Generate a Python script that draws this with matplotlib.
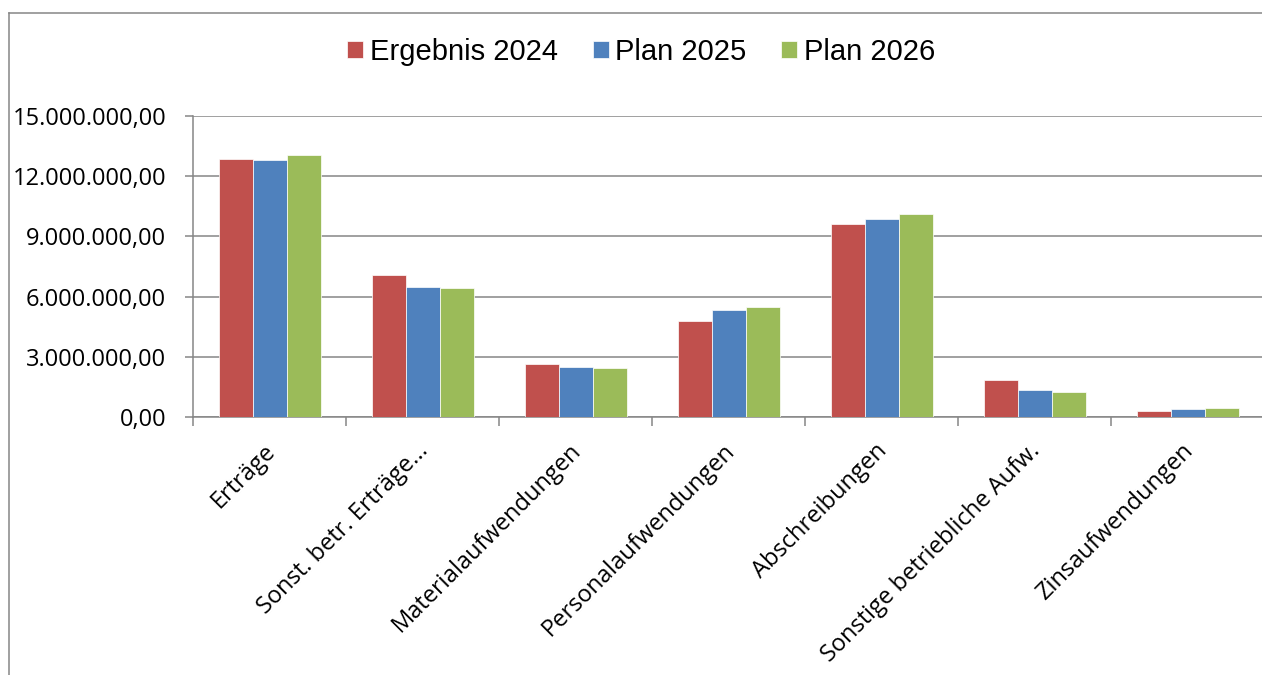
import matplotlib.pyplot as plt
import numpy as np
import matplotlib.transforms as mtransforms
from matplotlib.lines import Line2D
from matplotlib.ticker import FuncFormatter, FixedLocator

# Daten
kategorien = ['Erträge', 'Sonst. betr. Erträge...', 'Materialaufwendungen',
              'Personalaufwendungen', 'Abschreibungen',
              'Sonstige betriebliche Aufw.', 'Zinsaufwendungen']
ergebnis_2024 = [12870000, 7100000, 2630000, 4770000, 9630000, 1820000, 320000]
plan_2025 = [12800000, 6470000, 2480000, 5350000, 9880000, 1370000, 380000]
plan_2026 = [13070000, 6430000, 2450000, 5470000, 10100000, 1230000, 430000]
serien = ['Ergebnis 2024', 'Plan 2025', 'Plan 2026']
farben = ['#C0504D', '#4F81BD', '#9BBB59']
y_ticks = [0, 3000000, 6000000, 9000000, 12000000, 15000000]

W, H = 1262, 675
grau = '#868686'

fig = plt.figure(figsize=(W / 100, H / 100), dpi=100)
ax = fig.add_axes([193 / W, 1 - 417 / H, 1071 / W, 301 / H])

x = np.arange(len(kategorien))
breite = 34 / 153
for i, (werte, name, farbe) in enumerate(zip([ergebnis_2024, plan_2025, plan_2026], serien, farben)):
    ax.bar(x + (i - 1) * breite, werte, breite, color=farbe, label=name,
           edgecolor='white', linewidth=0.5, zorder=3)

ax.set_xlim(-0.5, len(kategorien) - 0.5)
ax.set_ylim(0, 15000000)
ax.set_yticks(y_ticks)


def deutsch(v, pos):
    s = f'{v:,.2f}'
    return s.replace(',', 'X').replace('.', ',').replace('X', '.')


ax.yaxis.set_major_formatter(FuncFormatter(deutsch))
ax.grid(axis='y', color=grau, linewidth=1.1, zorder=0)

for s in ['top', 'right']:
    ax.spines[s].set_visible(False)
for s in ['left', 'bottom']:
    ax.spines[s].set_color(grau)
    ax.spines[s].set_linewidth(1.1)

ax.tick_params(axis='y', direction='out', length=5.8, width=1.1, color=grau,
               pad=13.5, labelsize=17)
for lbl in ax.get_yticklabels():
    lbl.set_fontfamily('Open Sans')

# Kategorien-Beschriftung
ax.set_xticks(x)
ax.set_xticklabels(kategorien, rotation=45, ha='right', va='top',
                   rotation_mode='anchor', fontsize=17, fontfamily='Open Sans')
ax.tick_params(axis='x', which='major', length=0, pad=16)
verschiebung = mtransforms.ScaledTranslation(-6 / 100, 0, fig.dpi_scale_trans)
for lbl in ax.get_xticklabels():
    lbl.set_transform(lbl.get_transform() + verschiebung)
ax.xaxis.set_minor_locator(FixedLocator(np.arange(-0.5, len(kategorien), 1.0)))
ax.tick_params(axis='x', which='minor', direction='out', length=6.5, width=1.1, color=grau)

# Legende
fig.legend(loc='center', bbox_to_anchor=(641 / W, 1 - 52 / H), ncol=3, frameon=False,
           prop={'family': 'Liberation Sans', 'size': 21},
           handlelength=0.55, handleheight=0.55, handletextpad=0.22, columnspacing=1.2)

# Diagrammrahmen (nur links und oben sichtbar)
fig.lines.append(Line2D([9 / W, 9 / W], [0, 1 - 12.5 / H], transform=fig.transFigure,
                        color=grau, linewidth=1.1))
fig.lines.append(Line2D([9 / W, 1], [1 - 12.5 / H, 1 - 12.5 / H], transform=fig.transFigure,
                        color=grau, linewidth=1.1))

fig.savefig('out.png', dpi=100)
